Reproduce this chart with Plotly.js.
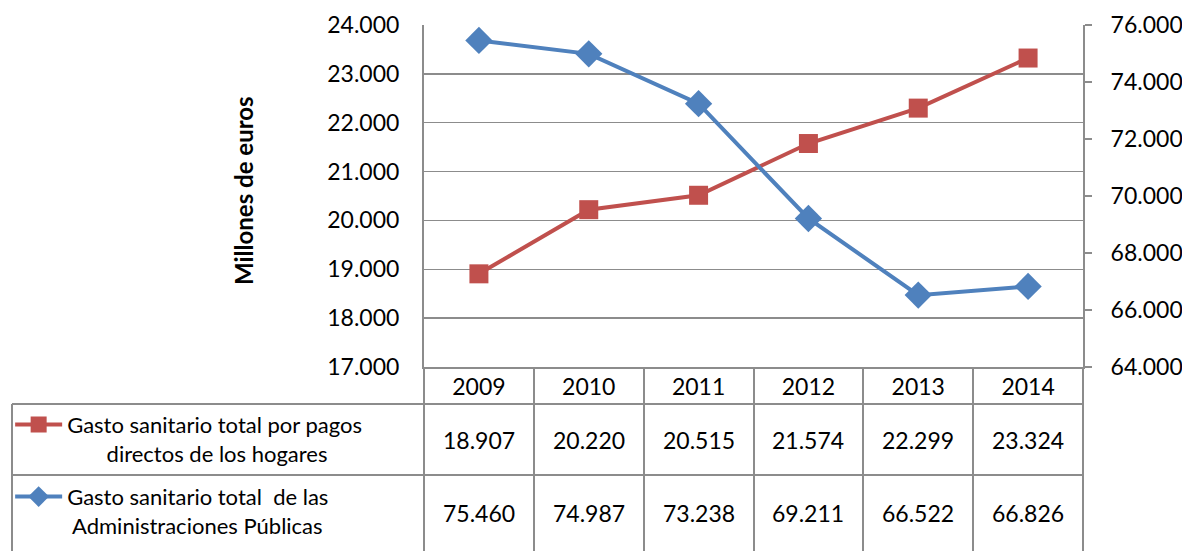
<!DOCTYPE html>
<html>
<head>
<meta charset="utf-8">
<script src="https://cdn.plot.ly/plotly-3.0.1.min.js"></script>
<style>
  html, body { margin: 0; padding: 0; background: #ffffff; }
  #chart { width: 1182px; height: 551px; }
</style>
</head>
<body>
<div id="chart"></div>
<script>
// data (millones de euros)
const years = ["2009", "2010", "2011", "2012", "2013", "2014"];
const pagosHogares = [18907, 20220, 20515, 21574, 22299, 23324];
const adminPublicas = [75460, 74987, 73238, 69211, 66522, 66826];
const nameHogares = "Gasto sanitario total por pagos<br>\u00a0\u00a0\u00a0\u00a0\u00a0\u00a0\u00a0directos de los hogares";
const nameAdmin = "Gasto sanitario total \u00a0de las<br>\u00a0Administraciones Públicas";

const FONT = "Lato, 'Liberation Sans', sans-serif";
const GRID = "#8c8c8c";

// format 18907 -> "18.907"
function fmt(v) {
  return (v / 1000).toFixed(3);
}

const traces = [
  {
    x: years,
    y: pagosHogares,
    yaxis: "y",
    mode: "lines+markers",
    name: nameHogares,
    legendgroup: "a",
    line: { color: "#C0504D", width: 4 },
    marker: { symbol: "square", size: 19, color: "#C0504D" }
  },
  {
    x: years,
    y: adminPublicas,
    yaxis: "y2",
    mode: "lines+markers",
    name: nameAdmin,
    legendgroup: "b",
    line: { color: "#4F81BD", width: 4 },
    marker: { symbol: "diamond", size: 21, color: "#4F81BD" }
  }
];

// table values as annotations below the plot (x = category index)
const annotations = [];
const rowY = [-0.2135, -0.427];
[pagosHogares, adminPublicas].forEach((series, r) => {
  series.forEach((v, i) => {
    annotations.push({
      x: i, xref: "x",
      y: rowY[r], yref: "paper",
      text: fmt(v),
      showarrow: false,
      font: { family: FONT, size: 23, color: "#000" },
      xanchor: "center", yanchor: "middle"
    });
  });
});
annotations.push({
  x: -0.2747, xref: "paper",
  y: 0.5175, yref: "paper",
  text: "<b>Millones de euros</b>",
  textangle: -90,
  showarrow: false,
  font: { family: FONT, size: 24, color: "#000" },
  xanchor: "center", yanchor: "middle"
});

// table border lines
const tline = { color: GRID, width: 2 };
const shapes = [
  { type: "line", xref: "paper", yref: "paper", x0: -0.6252, x1: 1, y0: -0.1082, y1: -0.1082, line: tline },
  { type: "line", xref: "paper", yref: "paper", x0: -0.6252, x1: 1, y0: -0.3158, y1: -0.3158, line: tline },
  { type: "line", xref: "paper", yref: "paper", x0: -0.6252, x1: -0.6252, y0: -0.1082, y1: -0.54, line: tline }
];

const layout = {
  width: 1182,
  height: 551,
  margin: { t: 25, r: 99, b: 184, l: 424, autoexpand: false },
  paper_bgcolor: "#ffffff",
  plot_bgcolor: "#ffffff",
  separators: ",.",
  font: { family: FONT, size: 22, color: "#000" },
  showlegend: true,
  legend: {
    x: -0.628, xanchor: "left",
    y: -0.107, yanchor: "top",
    bgcolor: "rgba(0,0,0,0)",
    itemwidth: 47,
    valign: "top",
    tracegroupgap: 12,
    traceorder: "grouped",
    font: { family: FONT, size: 22, color: "#000" }
  },
  xaxis: {
    type: "category",
    range: [-0.5, 5.5],
    showgrid: false,
    showline: true,
    linecolor: GRID,
    linewidth: 2,
    ticks: "outside",
    tickson: "boundaries",
    ticklen: 184,
    tickwidth: 2,
    tickcolor: GRID,
    ticklabelstandoff: -2,
    tickfont: { family: FONT, size: 23, color: "#000" }
  },
  yaxis: {
    range: [17000, 24000],
    dtick: 1000,
    tickformat: ",.0f",
    showgrid: true,
    gridcolor: GRID,
    gridwidth: 1.5,
    showline: true,
    linecolor: GRID,
    linewidth: 2,
    ticks: "",
    ticklabelstandoff: 18,
    zeroline: false,
    tickfont: { family: FONT, size: 23, color: "#000" }
  },
  yaxis2: {
    overlaying: "y",
    side: "right",
    range: [64000, 76000],
    dtick: 2000,
    tickformat: ",.0f",
    showgrid: false,
    showline: true,
    linecolor: GRID,
    linewidth: 2,
    ticks: "outside",
    ticklen: 7,
    tickwidth: 2,
    tickcolor: GRID,
    ticklabelstandoff: 14,
    zeroline: false,
    tickfont: { family: FONT, size: 23, color: "#000" }
  },
  shapes: shapes,
  annotations: annotations
};

Plotly.newPlot("chart", traces, layout, { displayModeBar: false, staticPlot: true });
</script>
</body>
</html>
